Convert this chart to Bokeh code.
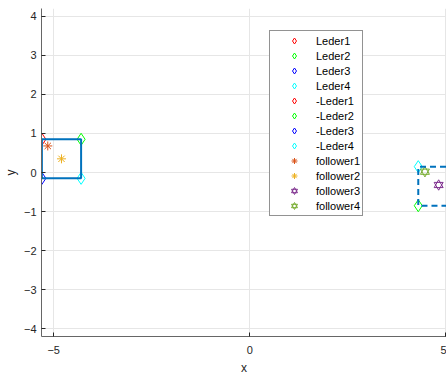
from bokeh.plotting import figure
from bokeh.models import FixedTicker, Range1d, Legend
from bokeh.embed import file_html
from bokeh.resources import INLINE

# data
leader_names = ["Leder1", "Leder2", "Leder3", "Leder4"]
leader_colors = ["#FF0000", "#00FF00", "#0000FF", "#00FFFF"]
leader_x = [-5.3, -4.3, -5.3, -4.3]
leader_y = [0.85, 0.85, -0.15, -0.15]
neg_leader_x = [-v for v in leader_x]
neg_leader_y = [-v for v in leader_y]
follower_names = ["follower1", "follower2", "follower3", "follower4"]
follower_colors = ["#D95319", "#EDB120", "#7E2F8E", "#77AC30"]
follower_x = [-5.15, -4.8, 4.82, 4.47]
follower_y = [0.68, 0.35, -0.32, 0.02]
rect_order = [0, 1, 3, 2, 0]
x_ticks = [-5, 0, 5]
y_ticks = [-4, -3, -2, -1, 0, 1, 2, 3, 4]

p = figure(frame_width=405, frame_height=328, output_backend="svg", toolbar_location=None,
           x_range=Range1d(-5.31, 5.02), y_range=Range1d(-4.2, 4.2),
           min_border_left=33, min_border_right=0, min_border_top=8, min_border_bottom=30)
p.outline_line_color = None
p.background_fill_color = "white"

p.xaxis.ticker = FixedTicker(ticks=x_ticks)
p.yaxis.ticker = FixedTicker(ticks=y_ticks)
for ax in (p.xaxis[0], p.yaxis[0]):
    ax.major_tick_in = 4
    ax.major_tick_out = 0
    ax.minor_tick_line_color = None
    ax.axis_line_color = "#666666"
    ax.major_tick_line_color = "#262626"
    ax.major_label_text_font = "Liberation Sans"
    ax.major_label_text_font_size = "11px"
    ax.major_label_text_color = "#262626"
    ax.axis_label_text_font = "Liberation Sans"
    ax.axis_label_text_font_size = "12px"
    ax.axis_label_text_font_style = "normal"
    ax.axis_label_text_color = "#262626"
p.xaxis.axis_label = "x"
p.yaxis.axis_label = "y"
p.xaxis.major_label_standoff = 9
p.xaxis.axis_label_standoff = 4
p.yaxis.major_label_standoff = 5
p.yaxis.axis_label_standoff = 3
p.grid.grid_line_color = "#E6E6E6"
p.grid.grid_line_width = 1

items = []
for i in range(4):
    r = p.scatter([leader_x[i]], [leader_y[i]], marker="diamond", size=12,
                  fill_color=None, line_color=leader_colors[i], line_width=1)
    items.append((leader_names[i], [r]))
for i in range(4):
    r = p.scatter([neg_leader_x[i]], [neg_leader_y[i]], marker="diamond", size=12,
                  fill_color=None, line_color=leader_colors[i], line_width=1)
    items.append(("-" + leader_names[i], [r]))
for i in range(2):
    r = p.scatter([follower_x[i]], [follower_y[i]], marker="asterisk", size=9,
                  line_color=follower_colors[i], line_width=1)
    items.append((follower_names[i], [r]))
for i in range(2, 4):
    r1 = p.scatter([follower_x[i]], [follower_y[i]], marker="triangle", size=9,
                   fill_color=None, line_color=follower_colors[i], line_width=1)
    r2 = p.scatter([follower_x[i]], [follower_y[i]], marker="inverted_triangle", size=9,
                   fill_color=None, line_color=follower_colors[i], line_width=1)
    items.append((follower_names[i], [r1, r2]))

p.line([leader_x[k] for k in rect_order], [leader_y[k] for k in rect_order],
       line_color="#0072BD", line_width=2)
p.line([neg_leader_x[k] for k in rect_order], [neg_leader_y[k] for k in rect_order],
       line_color="#0072BD", line_width=2, line_dash="6 4")

legend = Legend(items=items, location=(228, 120))
legend.label_text_font = "Liberation Sans"
legend.label_text_font_size = "11px"
legend.label_text_color = "#000000"
legend.padding = 2
legend.margin = 0
legend.spacing = 0
legend.glyph_width = 44
legend.glyph_height = 15
legend.label_height = 15
legend.label_standoff = 0
legend.border_line_color = "#262626"
legend.border_line_width = 1
legend.background_fill_color = "white"
legend.background_fill_alpha = 1
p.add_layout(legend, "center")

open("out.html", "w").write(file_html(p, INLINE))
